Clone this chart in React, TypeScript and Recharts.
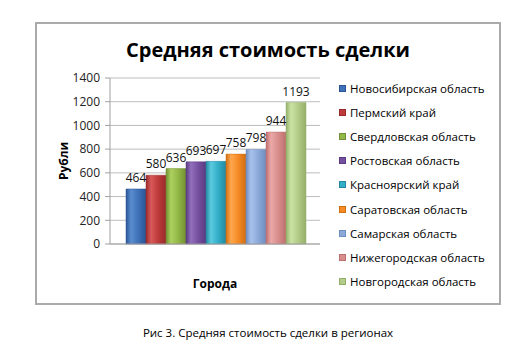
import React from 'react';
import { BarChart, Bar, XAxis, YAxis, CartesianGrid, Legend } from 'recharts';

const regions = [
  'Новосибирская область',
  'Пермский край',
  'Свердловская область',
  'Ростовская область',
  'Красноярский край',
  'Саратовская область',
  'Самарская область',
  'Нижегородская область',
  'Новгородская область',
];
const values = [464, 580, 636, 693, 697, 758, 798, 944, 1193];
const yTicks = [0, 200, 400, 600, 800, 1000, 1200, 1400];
const category = 'Города';

const colors = ['#3F72B8', '#BE3B3B', '#93B847', '#7650A0', '#32AEC8', '#F58B25', '#8CA9D9', '#D88E8D', '#B3CD88'];
const darks = ['#2A5595', '#9A2A2A', '#728F33', '#5A3A80', '#2389A0', '#D06E12', '#6F8DC0', '#BC6F6E', '#94AF6B'];
const lights = ['#5A8DD0', '#D85A5A', '#ADD160', '#9270BD', '#5BCBE0', '#FFA850', '#A8C2EC', '#EBA9A8', '#CBE2A4'];

const FONT = '"Open Sans", "DejaVu Sans", sans-serif';

const data = [
  Object.assign({ name: category }, Object.fromEntries(regions.map((r, i) => ['s' + i, values[i]]))),
];

const LegendContent = () => (
  <div style={{ fontFamily: FONT, fontSize: 11.5, color: '#000' }}>
    {regions.map((r, i) => (
      <div key={r} style={{ height: 24.2, display: 'flex', alignItems: 'center' }}>
        <span
          style={{
            display: 'inline-block',
            width: 7,
            height: 7,
            background: colors[i],
            border: '1px solid ' + darks[i],
            marginRight: 4,
            boxSizing: 'border-box',
          }}
        />
        <span style={{ whiteSpace: 'nowrap' }}>{r}</span>
      </div>
    ))}
  </div>
);

export default function App() {
  return (
    <div style={{ position: 'absolute', left: 0, top: 0, width: 524, height: 355, background: '#fff', fontFamily: FONT }}>
      <div
        style={{
          position: 'absolute',
          left: 35,
          top: 22,
          width: 466,
          height: 283,
          border: '2px solid #AAAAAA',
          boxSizing: 'border-box',
        }}
      />
      <div
        style={{
          position: 'absolute',
          left: 0,
          width: 536,
          top: 35,
          textAlign: 'center',
          fontSize: 20,
          fontWeight: 700,
          color: '#000',
          lineHeight: '30px',
        }}
      >
        Средняя стоимость сделки
      </div>
      <div
        style={{
          position: 'absolute',
          left: 0,
          width: 536,
          top: 324,
          textAlign: 'center',
          fontSize: 11.5,
          color: '#000',
          lineHeight: '18px',
        }}
      >
        Рис 3. Средняя стоимость сделки в регионах
      </div>
      <div style={{ position: 'absolute', left: 0, top: 0 }}>
        <BarChart
          width={524}
          height={355}
          data={data}
          margin={{ top: 78, right: 204, bottom: 61, left: 60 }}
          barCategoryGap={16}
          barGap={0}
        >
          <defs>
            {colors.map((c, i) => (
              <linearGradient key={i} id={'g' + i} x1="0" y1="0" x2="1" y2="0">
                <stop offset="0%" stopColor={darks[i]} />
                <stop offset="25%" stopColor={lights[i]} />
                <stop offset="60%" stopColor={c} />
                <stop offset="100%" stopColor={darks[i]} />
              </linearGradient>
            ))}
          </defs>
          <CartesianGrid vertical={false} stroke="#BDBDBD" />
          <XAxis
            dataKey="name"
            tick={false}
            tickLine={false}
            axisLine={{ stroke: '#A0A0A0' }}
            height={50}
            label={{ value: category, position: 'insideBottom', offset: 6, fontSize: 12, fontWeight: 700, fill: '#000', fontFamily: FONT }}
          />
          <YAxis
            domain={[0, 1400]}
            ticks={yTicks}
            width={50}
            tickSize={5}
            tickMargin={5}
            tickLine={{ stroke: '#A0A0A0' }}
            axisLine={{ stroke: '#A0A0A0' }}
            tick={{ fontSize: 12, fill: '#222', fontFamily: FONT }}
            interval={0}
            label={{
              content: (props: any) => {
                const vb = props.viewBox;
                const x = 63;
                const y = vb.y + vb.height / 2;
                return (
                  <text
                    x={x}
                    y={y}
                    transform={`rotate(-90, ${x}, ${y})`}
                    textAnchor="middle"
                    dominantBaseline="central"
                    fontSize={12}
                    fontWeight={700}
                    fill="#000"
                    fontFamily={FONT}
                  >
                    Рубли
                  </text>
                );
              },
            }}
          />
          <Legend
            layout="vertical"
            align="center"
            verticalAlign="middle"
            content={<LegendContent />}
            wrapperStyle={{ position: 'absolute', left: 339, top: 76, width: 180 }}
          />
          {regions.map((r, i) => (
            <Bar
              key={r}
              dataKey={'s' + i}
              name={r}
              fill={`url(#g${i})`}
              stroke={darks[i]}
              strokeWidth={0.5}
              isAnimationActive={false}
              label={{ position: 'top', offset: 7, fontSize: 12, fill: '#111', fontFamily: FONT }}
            />
          ))}
        </BarChart>
      </div>
    </div>
  );
}
